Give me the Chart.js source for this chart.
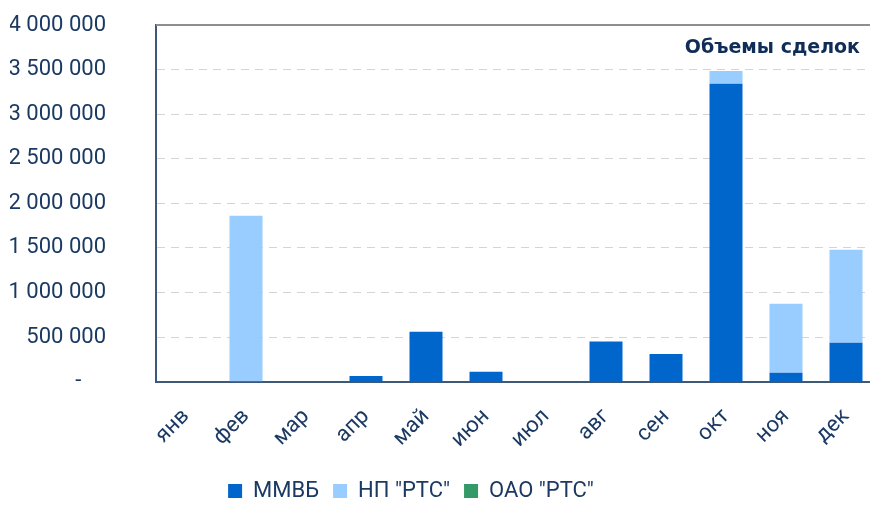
<!DOCTYPE html>
<html>
<head>
<meta charset="utf-8">
<script src="https://cdn.jsdelivr.net/npm/chart.js@4"></script>
<style>
  html, body { margin: 0; padding: 0; background: #fff; overflow: hidden; }
  #wrap { width: 876px; height: 507px; position: relative; }
</style>
</head>
<body>
<div id="wrap"><canvas id="myChart"></canvas></div>
<script>
const months = ['янв', 'фев', 'мар', 'апр', 'май', 'июн', 'июл', 'авг', 'сен', 'окт', 'ноя', 'дек'];
const micex = [0, 0, 0, 65000, 560000, 110000, 0, 450000, 310000, 3340000, 100000, 437000];
const npRts = [0, 1860000, 0, 0, 0, 0, 0, 0, 0, 145000, 774000, 1042000];
const oaoRts = [0, 0, 0, 0, 0, 0, 0, 0, 0, 0, 0, 0];
const chartTitle = 'Объемы сделок';

const textColor = '#1b3a63';
const axisColor = '#3d5878';
const legendPad = 14;

const fmt = v => v === 0 ? '-\u2007\u2007' : String(v).replace(/\B(?=(\d{3})+(?!\d))/g, ' ');

// title in the corner + solid top line, and legend nudge
const extras = {
    id: 'extras',
    afterLayout(chart) {
        const lg = chart.legend;
        const dy = 493 - (lg.top + legendPad + 13);
        lg.left -= 32; lg.right -= 32;
        lg.top += dy; lg.bottom += dy;
    },
    afterDraw(chart) {
        const { ctx, chartArea } = chart;
        ctx.save();
        ctx.strokeStyle = '#8f8f8f';
        ctx.lineWidth = 2;
        ctx.beginPath();
        ctx.moveTo(chartArea.left, chartArea.top);
        ctx.lineTo(chartArea.right, chartArea.top);
        ctx.stroke();
        ctx.font = 'bold 19px "DejaVu Sans"';
        ctx.fillStyle = '#0f2d57';
        ctx.textAlign = 'right';
        ctx.textBaseline = 'middle';
        ctx.fillText(chartTitle, 860, chartArea.top + 23);
        ctx.restore();
    },
};

const ctx = document.getElementById('myChart').getContext('2d');
const data = {
    labels: months,
    datasets: [
        { label: 'ММВБ', data: micex, backgroundColor: '#0066cc' },
        { label: 'НП "РТС"', data: npRts, backgroundColor: '#99ccff' },
        { label: 'ОАО "РТС"', data: oaoRts, backgroundColor: '#339966' },
    ],
};

const config = {
    type: 'bar',
    data: data,
    plugins: [extras],
    options: {
        responsive: true,
        maintainAspectRatio: false,
        animation: false,
        datasets: { bar: { barPercentage: 0.55, categoryPercentage: 1 } },
        layout: { padding: { left: 10, top: 25, right: 0, bottom: -14 } },
        plugins: {
            legend: {
                position: 'bottom',
                labels: {
                    color: textColor,
                    font: { family: 'Roboto', size: 22 },
                    boxWidth: 14,
                    boxHeight: 14,
                    padding: legendPad,
                },
            },
            tooltip: { enabled: false },
        },
        scales: {
            x: {
                stacked: true,
                grid: { display: false, drawTicks: false },
                border: { color: axisColor, width: 2 },
                ticks: {
                    color: textColor,
                    font: { family: 'Roboto', size: 22 },
                    minRotation: 45,
                    maxRotation: 45,
                    padding: 22,
                },
                afterFit(scale) { scale.paddingLeft = 0; scale.paddingRight = 0; },
            },
            y: {
                stacked: true,
                min: 0,
                max: 4000000,
                grid: { color: '#d4d4d4', lineWidth: 1, drawTicks: false },
                border: { color: axisColor, width: 2, dash: [8, 6] },
                ticks: {
                    stepSize: 500000,
                    color: textColor,
                    font: { family: 'Roboto', size: 22 },
                    padding: 50,
                    callback: v => fmt(v),
                },
                afterFit(scale) {
                    scale.width = 146;
                    scale.paddingTop = 0;
                    scale.paddingBottom = 0;
                },
            },
        },
    },
};

const volumeChart = new Chart(ctx, config);
</script>
</body>
</html>
